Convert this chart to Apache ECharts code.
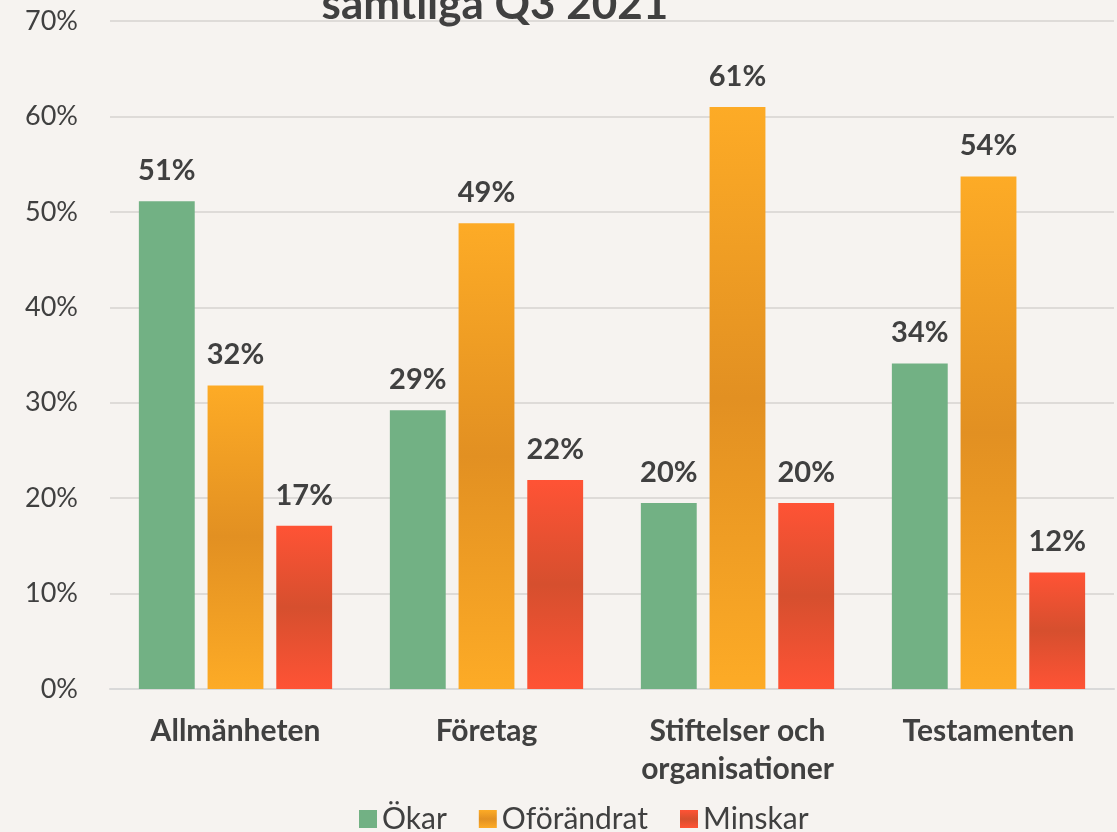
<!DOCTYPE html>
<html lang="sv">
<head>
    <meta charset="UTF-8">
    <title>samtliga Q3 2021</title>
    <script src="https://cdn.jsdelivr.net/npm/echarts@6/dist/echarts.min.js"></script>
    <style>
        html, body { margin: 0; padding: 0; background: #F6F3F0; }
    </style>
</head>
<body>
<div id="main" style="width:1117px;height:832px;"></div>

<script type="text/javascript">
    // data
    var categories = ['Allmänheten', 'Företag', 'Stiftelser och\norganisationer', 'Testamenten'];
    var okar = [51.1, 29.2, 19.5, 34.1];
    var oforandrat = [31.8, 48.8, 61.0, 53.7];
    var minskar = [17.1, 21.9, 19.5, 12.2];
    var yTicks = [0, 10, 20, 30, 40, 50, 60, 70];

    var font = 'Lato';
    var textCol = '#404040';

    // vertical shading, darker in the middle of the bar
    function shade(edge, mid) {
        return new echarts.graphic.LinearGradient(0, 0, 0, 1, [
            {offset: 0, color: edge},
            {offset: 0.5, color: mid},
            {offset: 1, color: edge}
        ]);
    }

    var labelCfg = {
        show: true,
        position: 'top',
        distance: 16,
        fontFamily: font,
        fontSize: 29,
        fontWeight: 'bold',
        color: textCol,
        formatter: function (p) { return Math.round(p.value) + '%'; }
    };

    var myChart = echarts.init(document.getElementById('main'));
    var option = {
        backgroundColor: '#F6F3F0',
        animation: false,
        title: {
            text: 'samtliga Q3 2021',
            left: 490,
            textAlign: 'center',
            top: -22,
            textStyle: {fontFamily: font, fontSize: 44, fontWeight: 'bold', color: textCol}
        },
        legend: {
            top: 799,
            left: 354,
            icon: 'rect',
            itemWidth: 18,
            itemHeight: 18,
            itemGap: 32,
            textStyle: {fontFamily: font, fontSize: 30, color: textCol},
            data: ['Ökar', 'Oförändrat', 'Minskar']
        },
        grid: {left: 110, right: 3, top: 21, bottom: 143, containLabel: false},
        xAxis: {
            type: 'category',
            data: categories,
            axisTick: {show: false},
            axisLine: {lineStyle: {color: '#D9D9D9', width: 2}},
            axisLabel: {
                fontFamily: font, fontSize: 30, fontWeight: 'bold', color: textCol,
                margin: 23, lineHeight: 38, interval: 0
            }
        },
        yAxis: {
            type: 'value',
            min: yTicks[0],
            max: yTicks[yTicks.length - 1],
            interval: 10,
            axisLine: {show: false},
            axisTick: {show: false},
            splitLine: {lineStyle: {color: '#DEDBD8', width: 2}},
            axisLabel: {
                fontFamily: font, fontSize: 27, color: textCol, margin: 32,
                formatter: '{value}%'
            }
        },
        series: [
            {
                name: 'Ökar', type: 'bar', data: okar,
                barGap: '23%', barCategoryGap: '23%',
                itemStyle: {color: '#72B184'},
                label: labelCfg
            },
            {
                name: 'Oförändrat', type: 'bar', data: oforandrat,
                itemStyle: {color: shade('#FDAB26', '#E29022')},
                label: labelCfg
            },
            {
                name: 'Minskar', type: 'bar', data: minskar,
                itemStyle: {color: shade('#FF5335', '#D64F2E')},
                label: labelCfg
            }
        ]
    };
    myChart.setOption(option);
</script>
</body>
</html>
